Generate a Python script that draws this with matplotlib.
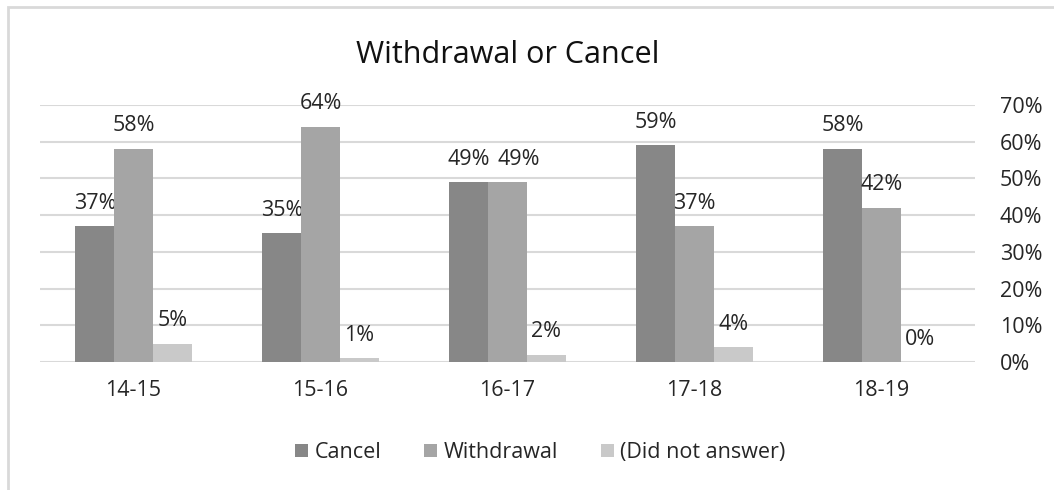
import numpy as np
import matplotlib.pyplot as plt
from matplotlib.patches import Rectangle
from matplotlib.ticker import PercentFormatter

plt.rcParams['font.family'] = ['Open Sans', 'DejaVu Sans']

# data
years = ['14-15', '15-16', '16-17', '17-18', '18-19']
cancel = [37, 35, 49, 59, 58]
withdrawal = [58, 64, 49, 37, 42]
no_answer = [5, 1, 2, 4, 0]
series_names = ['Cancel', 'Withdrawal', '(Did not answer)']
colors = ['#878787', '#a5a5a5', '#c9c9c9']

fig = plt.figure(figsize=(10.54, 4.9), dpi=100)
ax = fig.add_axes([0.038, 0.261, 0.887, 0.525])

# chart border (left/top visible only)
fig.patches.append(Rectangle((8 / 1054, -0.1), 1.2, 1 - 7 / 490 + 0.1,
                             transform=fig.transFigure, fill=False,
                             edgecolor='#d9d9d9', linewidth=2))

x = np.arange(len(years))
w = 0.207
all_vals = [cancel, withdrawal, no_answer]
for i, (vals, name, c) in enumerate(zip(all_vals, series_names, colors)):
    pos = x + (i - 1) * w
    ax.bar(pos, vals, width=w, color=c, label=name, zorder=3)
    for j, (xp, v) in enumerate(zip(pos, vals)):
        # nudge a label right when it would sit on top of its neighbour's
        dx = 0
        if i > 0 and abs(all_vals[i - 1][j] - v) < 3:
            dx = 8
        ax.annotate(f'{v}%', (xp, v), xytext=(dx, 9), textcoords='offset points',
                    ha='center', va='bottom', fontsize=15.5, color='#262626')

ax.set_xlim(-0.5, len(years) - 0.5)
ax.set_ylim(0, 70)
ax.set_yticks(range(0, 71, 10))
ax.yaxis.set_major_formatter(PercentFormatter(decimals=0))
ax.yaxis.tick_right()
ax.set_xticks(x)
ax.set_xticklabels(years)
ax.tick_params(axis='both', length=0, labelsize=15.5, labelcolor='#262626')
ax.tick_params(axis='y', pad=18)
ax.tick_params(axis='x', pad=13)
ax.grid(axis='y', color='#d9d9d9', linewidth=1.5, zorder=0)
for s in ax.spines.values():
    s.set_visible(False)

ax.set_title('Withdrawal or Cancel', fontsize=22, color='#111111', pad=30)

ax.legend(loc='upper center', bbox_to_anchor=(0.535, -0.235), ncol=3, frameon=False,
          fontsize=15.5, handlelength=0.6, handleheight=0.6, handletextpad=0.3,
          columnspacing=2.0, labelcolor='#262626')

fig.savefig('out.png', dpi=100)
